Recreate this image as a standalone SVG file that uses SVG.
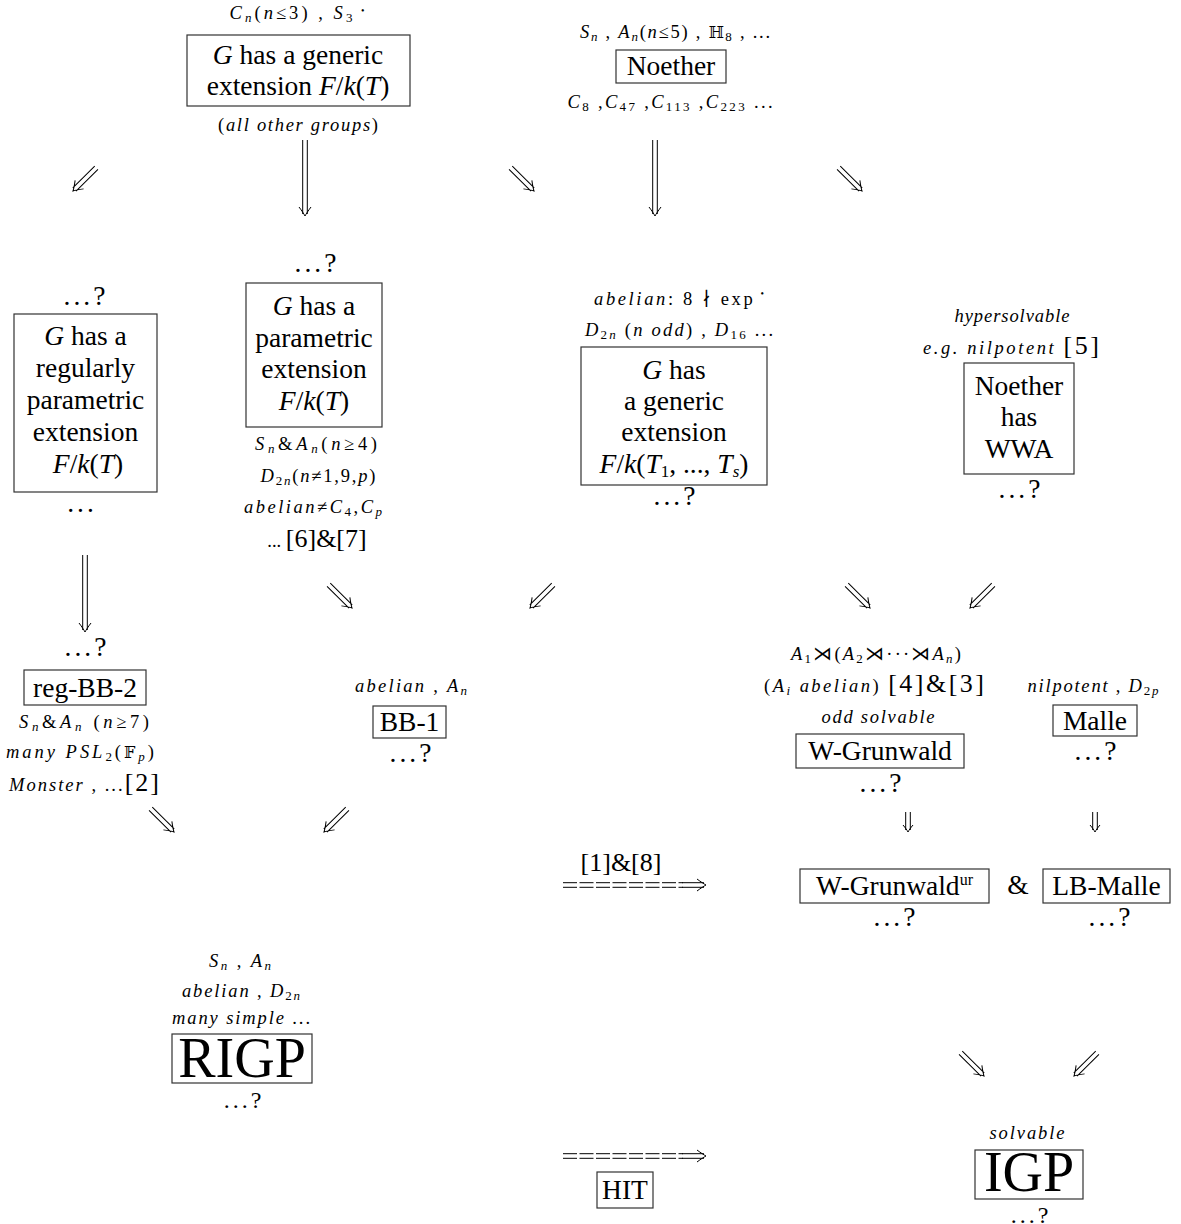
<svg xmlns="http://www.w3.org/2000/svg" width="1181" height="1224" viewBox="0 0 1181 1224">
<style>
text{font-family:"Liberation Serif","DejaVu Serif",serif;fill:#000;text-anchor:middle}
.b{font-size:27.5px}
.L{font-size:56px}
.m{font-size:18.5px;font-style:italic}
.i{font-style:italic}
.u{font-style:normal}
.s{font-size:13px}
.bb{font-family:"DejaVu Serif","DejaVu Sans",serif;font-style:normal;font-size:16px}
.br{font-size:26px;font-style:normal}
.q{font-size:24px;letter-spacing:3px}
.box{fill:#fff;stroke:#333;stroke-width:1.2}
.a{fill:none;stroke:#000;stroke-width:1}
.d{letter-spacing:3px}
</style>
<rect width="1181" height="1224" fill="#fff"/>

<g id="connectors">
  <path class="a" transform="translate(73,191) rotate(135)" d="M-33,-2.3H-2M-33,2.3H-2M-9,-6C-5,-3 -2,-1 0,0C-2,1 -5,3 -9,6"/>
  <path class="a" transform="translate(305,216) rotate(90)" d="M-76,-2.3H-2M-76,2.3H-2M-9,-6C-5,-3 -2,-1 0,0C-2,1 -5,3 -9,6"/>
  <path class="a" transform="translate(534,191) rotate(45)" d="M-33,-2.3H-2M-33,2.3H-2M-9,-6C-5,-3 -2,-1 0,0C-2,1 -5,3 -9,6"/>
  <path class="a" transform="translate(655,216) rotate(90)" d="M-76,-2.3H-2M-76,2.3H-2M-9,-6C-5,-3 -2,-1 0,0C-2,1 -5,3 -9,6"/>
  <path class="a" transform="translate(862,191) rotate(45)" d="M-33,-2.3H-2M-33,2.3H-2M-9,-6C-5,-3 -2,-1 0,0C-2,1 -5,3 -9,6"/>

  <path class="a" transform="translate(85,632) rotate(90)" d="M-77,-2.3H-2M-77,2.3H-2M-9,-6C-5,-3 -2,-1 0,0C-2,1 -5,3 -9,6"/>
  <path class="a" transform="translate(352,608) rotate(45)" d="M-33,-2.3H-2M-33,2.3H-2M-9,-6C-5,-3 -2,-1 0,0C-2,1 -5,3 -9,6"/>
  <path class="a" transform="translate(530,608) rotate(135)" d="M-33,-2.3H-2M-33,2.3H-2M-9,-6C-5,-3 -2,-1 0,0C-2,1 -5,3 -9,6"/>
  <path class="a" transform="translate(870,608) rotate(45)" d="M-33,-2.3H-2M-33,2.3H-2M-9,-6C-5,-3 -2,-1 0,0C-2,1 -5,3 -9,6"/>
  <path class="a" transform="translate(970,608) rotate(135)" d="M-33,-2.3H-2M-33,2.3H-2M-9,-6C-5,-3 -2,-1 0,0C-2,1 -5,3 -9,6"/>

  <path class="a" transform="translate(908,832) rotate(90)" d="M-20,-2.3H-2M-20,2.3H-2M-7,-5C-4,-2.5 -2,-1 0,0C-2,1 -4,2.5 -7,5"/>
  <path class="a" transform="translate(1095,832) rotate(90)" d="M-20,-2.3H-2M-20,2.3H-2M-7,-5C-4,-2.5 -2,-1 0,0C-2,1 -4,2.5 -7,5"/>
  <path class="a" transform="translate(174,832) rotate(45)" d="M-33,-2.3H-2M-33,2.3H-2M-9,-6C-5,-3 -2,-1 0,0C-2,1 -5,3 -9,6"/>
  <path class="a" transform="translate(324,832) rotate(135)" d="M-33,-2.3H-2M-33,2.3H-2M-9,-6C-5,-3 -2,-1 0,0C-2,1 -5,3 -9,6"/>

  <path class="a" d="M563,882.7H683M563,887.3H683" stroke-dasharray="14 2.5"/>
  <path class="a" transform="translate(706,885) rotate(0)" d="M-24,-2.3H-2M-24,2.3H-2M-9,-6C-5,-3 -2,-1 0,0C-2,1 -5,3 -9,6"/>

  <path class="a" transform="translate(984,1076) rotate(45)" d="M-33,-2.3H-2M-33,2.3H-2M-9,-6C-5,-3 -2,-1 0,0C-2,1 -5,3 -9,6"/>
  <path class="a" transform="translate(1074,1076) rotate(135)" d="M-33,-2.3H-2M-33,2.3H-2M-9,-6C-5,-3 -2,-1 0,0C-2,1 -5,3 -9,6"/>

  <path class="a" d="M563,1153.7H683M563,1158.3H683" stroke-dasharray="14 2.5"/>
  <path class="a" transform="translate(706,1156) rotate(0)" d="M-24,-2.3H-2M-24,2.3H-2M-9,-6C-5,-3 -2,-1 0,0C-2,1 -5,3 -9,6"/>
</g>

<g id="generic-one">
  <text class="m" x="297" y="19" textLength="135">C<tspan class="s" dy="3">n</tspan><tspan class="u" dy="-3">(</tspan>n<tspan class="u">≤3) , </tspan>S<tspan class="s u" dy="3">3</tspan><tspan class="u" dy="-8" font-size="10"> •</tspan></text>
  <rect class="box" x="187" y="35" width="223" height="71"/>
  <text class="b" x="298" y="64"><tspan class="i">G</tspan> has a generic</text>
  <text class="b" x="298" y="95">extension <tspan class="i">F</tspan>/<tspan class="i">k</tspan>(<tspan class="i">T</tspan>)</text>
  <text class="m" x="298" y="131" textLength="160"><tspan class="u">(</tspan>all other groups<tspan class="u">)</tspan></text>
</g>

<g id="noether">
  <text class="m" x="675" y="38" textLength="190">S<tspan class="s" dy="3">n</tspan><tspan class="u" dy="-3"> , </tspan>A<tspan class="s" dy="3">n</tspan><tspan class="u" dy="-3">(</tspan>n<tspan class="u">≤5) , </tspan><tspan class="bb">ℍ</tspan><tspan class="s u" dy="3">8</tspan><tspan class="u" dy="-3"> , ...</tspan></text>
  <rect class="box" x="616" y="50" width="110" height="33"/>
  <text class="b" x="671" y="75">Noether</text>
  <text class="m" x="670" y="108" textLength="205">C<tspan class="s u" dy="3">8</tspan><tspan class="u" dy="-3"> ,</tspan>C<tspan class="s u" dy="3">47</tspan><tspan class="u" dy="-3"> ,</tspan>C<tspan class="s u" dy="3">113</tspan><tspan class="u" dy="-3"> ,</tspan>C<tspan class="s u" dy="3">223</tspan><tspan class="u" dy="-3"> ...</tspan></text>
</g>

<g id="regularly-parametric">
  <text class="b d" x="86" y="305">...?</text>
  <rect class="box" x="14" y="314" width="143" height="178"/>
  <text class="b" x="85.5" y="345"><tspan class="i">G</tspan> has a</text>
  <text class="b" x="85.5" y="377">regularly</text>
  <text class="b" x="85.5" y="409">parametric</text>
  <text class="b" x="85.5" y="441">extension</text>
  <text class="b" x="88" y="473"><tspan class="i">F</tspan>/<tspan class="i">k</tspan>(<tspan class="i">T</tspan>)</text>
  <text class="b d" x="82" y="512">...</text>
</g>

<g id="parametric">
  <text class="b d" x="317" y="272">...?</text>
  <rect class="box" x="246" y="283" width="136" height="144"/>
  <text class="b" x="314" y="315"><tspan class="i">G</tspan> has a</text>
  <text class="b" x="314" y="347">parametric</text>
  <text class="b" x="314" y="378">extension</text>
  <text class="b" x="314" y="410"><tspan class="i">F</tspan>/<tspan class="i">k</tspan>(<tspan class="i">T</tspan>)</text>
  <text class="m" x="316" y="450" textLength="122">S<tspan class="s" dy="3">n</tspan><tspan class="u" dy="-3">&amp;</tspan>A<tspan class="s" dy="3">n</tspan><tspan class="u" dy="-3">(</tspan>n<tspan class="u">≥4)</tspan></text>
  <text class="m" x="318" y="482" textLength="115">D<tspan class="s" dy="3"><tspan class="u">2</tspan>n</tspan><tspan class="u" dy="-3">(</tspan>n<tspan class="u">≠1,9,</tspan>p<tspan class="u">)</tspan></text>
  <text class="m" x="313" y="513" textLength="138">abelian<tspan class="u">≠</tspan>C<tspan class="s u" dy="3">4</tspan><tspan class="u" dy="-3">,</tspan>C<tspan class="s" dy="3">p</tspan></text>
  <text class="m" x="317" y="547"><tspan class="u">...  </tspan><tspan class="br">[6]&amp;[7]</tspan></text>
</g>

<g id="generic-many">
  <text class="m" x="679" y="305" textLength="170">abelian<tspan class="u">: 8 ∤ exp</tspan><tspan class="u" dy="-8" font-size="10"> •</tspan></text>
  <text class="m" x="679" y="336" textLength="188">D<tspan class="s" dy="3"><tspan class="u">2</tspan>n</tspan><tspan class="u" dy="-3"> (</tspan>n odd<tspan class="u">) , </tspan>D<tspan class="s u" dy="3">16</tspan><tspan class="u" dy="-3"> ...</tspan></text>
  <rect class="box" x="581" y="347" width="186" height="138"/>
  <text class="b" x="674" y="379"><tspan class="i">G</tspan> has</text>
  <text class="b" x="674" y="410">a generic</text>
  <text class="b" x="674" y="441">extension</text>
  <text class="b" x="674" y="473"><tspan class="i">F</tspan>/<tspan class="i">k</tspan>(<tspan class="i">T</tspan><tspan font-size="17" dy="4">1</tspan><tspan dy="-4">, ..., </tspan><tspan class="i">T</tspan><tspan class="i" font-size="17" dy="4">s</tspan><tspan dy="-4">)</tspan></text>
  <text class="b d" x="676" y="505">...?</text>
</g>

<g id="noether-wwa">
  <text class="m" x="1012" y="322" textLength="115">hypersolvable</text>
  <text class="m" x="1011" y="354" textLength="176">e.g. nilpotent <tspan class="br">[5]</tspan></text>
  <rect class="box" x="964" y="363" width="110" height="111"/>
  <text class="b" x="1019" y="395">Noether</text>
  <text class="b" x="1019" y="426">has</text>
  <text class="b" x="1019" y="458">WWA</text>
  <text class="b d" x="1021" y="498">...?</text>
</g>

<g id="reg-bb-2">
  <text class="b d" x="87" y="656">...?</text>
  <rect class="box" x="24" y="670" width="122" height="35"/>
  <text class="b" x="85" y="697">reg-BB-2</text>
  <text class="m" x="84" y="728" textLength="130">S<tspan class="s" dy="3">n</tspan><tspan class="u" dy="-3">&amp;</tspan>A<tspan class="s" dy="3">n</tspan><tspan class="u" dy="-3"> (</tspan>n<tspan class="u">≥7)</tspan></text>
  <text class="m" x="80" y="758" textLength="148">many PSL<tspan class="s u" dy="3">2</tspan><tspan class="u" dy="-3">(</tspan><tspan class="bb">𝔽</tspan><tspan class="s" dy="3">p</tspan><tspan class="u" dy="-3">)</tspan></text>
  <text class="m" x="84" y="791" textLength="150">Monster<tspan class="u"> , ...</tspan><tspan class="br">[2]</tspan></text>
</g>

<g id="bb-1">
  <text class="m" x="411" y="692" textLength="112">abelian <tspan class="u">, </tspan>A<tspan class="s" dy="3">n</tspan></text>
  <rect class="box" x="373" y="706" width="73" height="32"/>
  <text class="b" x="409.5" y="731">BB-1</text>
  <text class="b d" x="412" y="762">...?</text>
</g>

<g id="w-grunwald">
  <text class="m" x="876" y="660" textLength="170">A<tspan class="s u" dy="3">1</tspan><tspan class="u" dy="-3">⋊(</tspan>A<tspan class="s u" dy="3">2</tspan><tspan class="u" dy="-3">⋊···⋊</tspan>A<tspan class="s" dy="3">n</tspan><tspan class="u" dy="-3">)</tspan></text>
  <text class="m" x="874" y="692" textLength="220"><tspan class="u">(</tspan>A<tspan class="s" dy="3">i</tspan><tspan dy="-3"> abelian</tspan><tspan class="u">) </tspan><tspan class="br">[4]&amp;[3]</tspan></text>
  <text class="m" x="878" y="723" textLength="113">odd solvable</text>
  <rect class="box" x="796" y="734" width="168" height="34"/>
  <text class="b" x="880" y="760">W-Grunwald</text>
  <text class="b d" x="882" y="792">...?</text>
</g>

<g id="malle">
  <text class="m" x="1093" y="692" textLength="131">nilpotent <tspan class="u">, </tspan>D<tspan class="s" dy="3"><tspan class="u">2</tspan>p</tspan></text>
  <rect class="box" x="1053" y="705" width="84" height="31"/>
  <text class="b" x="1095" y="730">Malle</text>
  <text class="b d" x="1097" y="760">...?</text>
</g>

<g id="hit-label">
  <text class="br" x="621" y="871">[1]&amp;[8]</text>
</g>

<g id="w-grunwald-ur">
  <rect class="box" x="800" y="869" width="189" height="34"/>
  <text class="b" x="894.5" y="895">W-Grunwald<tspan font-size="16" dy="-10">ur</tspan></text>
  <text class="b d" x="896" y="926">...?</text>
</g>

<g id="amp">
  <text class="b" x="1018" y="894">&amp;</text>
</g>

<g id="lb-malle">
  <rect class="box" x="1043" y="869" width="127" height="34"/>
  <text class="b" x="1106.5" y="895">LB-Malle</text>
  <text class="b d" x="1111" y="926">...?</text>
</g>

<g id="rigp">
  <text class="m" x="240" y="967" textLength="62">S<tspan class="s" dy="3">n</tspan><tspan class="u" dy="-3"> , </tspan>A<tspan class="s" dy="3">n</tspan></text>
  <text class="m" x="241" y="997" textLength="118">abelian<tspan class="u"> , </tspan>D<tspan class="s" dy="3"><tspan class="u">2</tspan>n</tspan></text>
  <text class="m" x="241" y="1024" textLength="138">many simple<tspan class="u"> ...</tspan></text>
  <rect class="box" x="172" y="1034" width="140" height="49"/>
  <text class="L" x="242" y="1077">RIGP</text>
  <text class="q" x="244" y="1108">...?</text>
</g>

<g id="hit">
  <rect class="box" x="597" y="1172" width="56" height="36"/>
  <text class="b" x="625" y="1199">HIT</text>
</g>

<g id="igp">
  <text class="m" x="1027" y="1139" textLength="75">solvable</text>
  <rect class="box" x="975" y="1150" width="108" height="49"/>
  <text class="L" x="1029" y="1191" font-size="54">IGP</text>
  <text class="q" x="1031" y="1223" font-size="21">...?</text>
</g>
</svg>
